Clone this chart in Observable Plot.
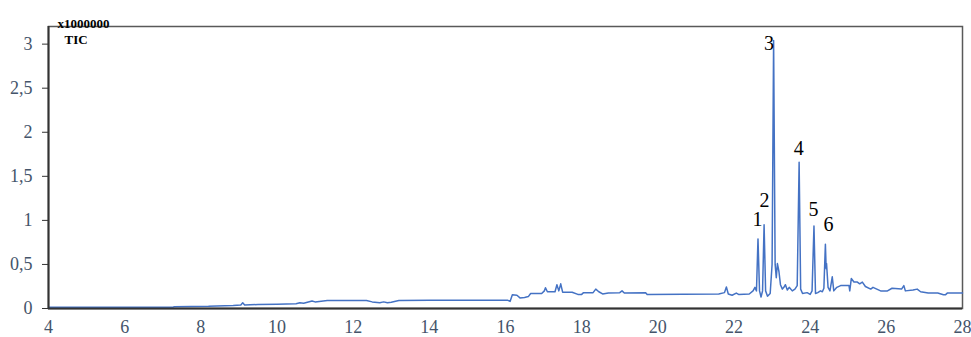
<!DOCTYPE html>
<html>
<head>
<meta charset="utf-8">
<script src="https://cdn.jsdelivr.net/npm/d3@7"></script>
<script src="https://cdn.jsdelivr.net/npm/@observablehq/plot@0.6"></script>
<style>
  html, body { margin: 0; padding: 0; background: #fff; }
  #chart svg { display: block; }
  #chart svg, #chart svg text { font-family: 'Liberation Serif', 'Times New Roman', serif !important; }
</style>
</head>
<body>
<div id="chart"></div>
<script>
// Retention time (min)
const rt = [
  4.0, 7.28, 7.3, 8.2, 8.85, 9.05, 9.1, 9.15, 9.5, 10.0, 10.5, 10.6, 10.7, 10.92, 11.0, 11.32,
  12.35, 12.5, 12.7, 12.8, 12.9, 13.0, 13.2, 14.0, 16.05, 16.12, 16.18, 16.3, 16.38, 16.5, 16.6,
  16.66, 16.95, 17.02, 17.05, 17.1, 17.3, 17.35, 17.4, 17.45, 17.5, 17.75, 17.9, 18.0, 18.05,
  18.3, 18.37, 18.45, 18.55, 18.7, 19.0, 19.06, 19.12, 19.68, 19.72, 21.6, 21.75, 21.8, 21.85,
  21.95, 22.06, 22.12, 22.4, 22.5, 22.55, 22.59, 22.63, 22.67, 22.71, 22.75, 22.79, 22.83, 22.88,
  22.95, 23.0, 23.04, 23.08, 23.11, 23.14, 23.18, 23.22, 23.27, 23.31, 23.35, 23.4, 23.45, 23.53,
  23.6, 23.66, 23.71, 23.75, 23.8, 23.92, 24.0, 24.05, 24.1, 24.14, 24.2, 24.27, 24.32, 24.36,
  24.4, 24.42, 24.43, 24.47, 24.52, 24.58, 24.62, 24.7, 24.8, 25.02, 25.04, 25.08, 25.15, 25.24,
  25.3, 25.37, 25.45, 25.59, 25.65, 25.85, 26.03, 26.15, 26.4, 26.46, 26.5, 26.7, 26.81, 26.9,
  27.1, 27.35, 27.5, 27.55, 27.6, 28.0
];
// TIC intensity (x1000000)
const intensity = [
  0.015, 0.015, 0.02, 0.025, 0.035, 0.04, 0.065, 0.04, 0.045, 0.048, 0.055, 0.065, 0.06, 0.085, 0.075, 0.09,
  0.09, 0.075, 0.065, 0.075, 0.065, 0.07, 0.09, 0.095, 0.095, 0.08, 0.155, 0.15, 0.12, 0.125, 0.135,
  0.17, 0.17, 0.2, 0.235, 0.19, 0.19, 0.27, 0.2, 0.28, 0.185, 0.185, 0.16, 0.16, 0.18,
  0.18, 0.22, 0.19, 0.165, 0.175, 0.18, 0.2, 0.175, 0.18, 0.16, 0.165, 0.18, 0.245, 0.165,
  0.15, 0.175, 0.16, 0.165, 0.2, 0.24, 0.2, 0.79, 0.2, 0.13, 0.2, 0.95, 0.2, 0.14,
  0.17, 0.5, 3.04, 0.5, 0.35, 0.51, 0.42, 0.27, 0.22, 0.24, 0.27, 0.21, 0.24, 0.2,
  0.22, 0.26, 1.66, 0.22, 0.17, 0.18, 0.16, 0.2, 0.935, 0.17, 0.18, 0.2, 0.19, 0.23,
  0.73, 0.45, 0.51, 0.24, 0.2, 0.36, 0.2, 0.24, 0.26, 0.26, 0.2, 0.34, 0.3, 0.3,
  0.28, 0.3, 0.25, 0.22, 0.24, 0.2, 0.2, 0.23, 0.22, 0.26, 0.2, 0.21, 0.22, 0.19,
  0.175, 0.175, 0.155, 0.155, 0.175, 0.175
];
// Peak labels
const peakLabels = ["1", "2", "3", "4", "5", "6"];
const peakLabelX = [22.62, 22.80, 22.92, 23.70, 24.09, 24.48];
const peakLabelY = [1.01, 1.23, 3.01, 1.81, 1.125, 0.955];

const xTicks = [4, 6, 8, 10, 12, 14, 16, 18, 20, 22, 24, 26, 28];
const yTicks = [0, 0.5, 1, 1.5, 2, 2.5, 3];
const yUnit = "x1000000";
const seriesName = "TIC";

const serif = "'Liberation Serif', 'Times New Roman', serif";
const trace = rt.map((t, i) => ({rt: t, v: intensity[i]}));
const labels = peakLabels.map((s, i) => ({s, x: peakLabelX[i], y: peakLabelY[i]}));
const fmt = d => String(d).replace(".", ",");

const chart = Plot.plot({
  width: 971,
  height: 337,
  marginTop: 26,
  marginBottom: 29,
  marginLeft: 48,
  marginRight: 9,
  style: {fontFamily: serif, fontSize: "18px", color: "#44546A", background: "#fff"},
  x: {domain: [4, 28]},
  y: {domain: [0, 3.2]},
  marks: [
    Plot.frame({stroke: "#595959", strokeWidth: 1.5}),
    Plot.axisX({ticks: xTicks, tickSize: 0, tickPadding: 12, label: null, fill: "#44546A", fontFamily: serif, fontSize: 18}),
    Plot.axisY({ticks: yTicks, tickSize: 6, tickPadding: 10, tickFormat: fmt, label: null, stroke: "#333", fill: "#44546A", fontFamily: serif, fontSize: 18}),
    Plot.line(trace, {x: "rt", y: "v", stroke: "#4472C4", strokeWidth: 1.5, curve: "linear"}),
    Plot.ruleY([0], {stroke: "#333", strokeWidth: 2}),
    Plot.ruleX([4], {stroke: "#333", strokeWidth: 2}),
    Plot.text(labels, {x: "x", y: "y", text: "s", fill: "#000", fontSize: 20, fontFamily: serif}),
    Plot.text([yUnit], {frameAnchor: "top-left", dx: 9, dy: -8, textAnchor: "start", fontWeight: "bold", fontSize: 13, fill: "#000", fontFamily: serif}),
    Plot.text([seriesName], {frameAnchor: "top-left", dx: 16, dy: 8, textAnchor: "start", fontWeight: "bold", fontSize: 13, fill: "#000", fontFamily: serif})
  ]
});
document.getElementById("chart").appendChild(chart);
</script>
</body>
</html>
